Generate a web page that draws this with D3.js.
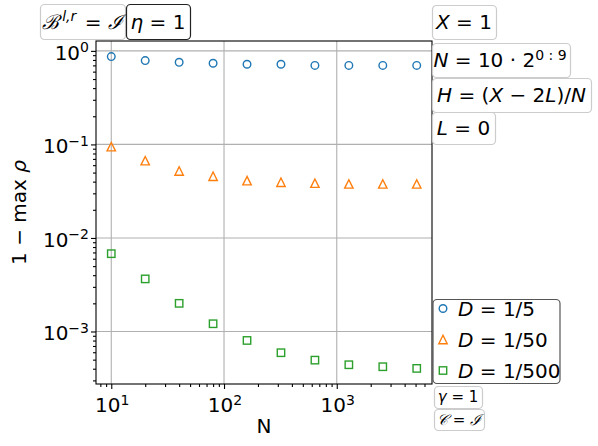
<!DOCTYPE html>
<html><head><meta charset="utf-8">
<script src="https://cdn.jsdelivr.net/npm/d3@7"></script>
<style>
body{margin:0;background:#fff;}
svg{display:block;font-family:"DejaVu Sans",sans-serif;}
</style></head>
<body>
<svg id="c" width="598" height="446"></svg>
<script>
const Nvals = [10, 20, 40, 80, 160, 320, 640, 1280, 2560, 5120];
const seriesD5   = [0.869, 0.788, 0.755, 0.738, 0.72, 0.72, 0.70, 0.70, 0.70, 0.70];
const seriesD50  = [0.0945, 0.067, 0.052, 0.0457, 0.041, 0.0394, 0.0385, 0.0378, 0.0378, 0.0378];
const seriesD500 = [0.00679, 0.00365, 0.00200, 0.00121, 0.000802, 0.000593, 0.000494, 0.000441, 0.000420, 0.000403];
const seriesLabels = ["1/5", "1/50", "1/500"];
const xTickExps = [1, 2, 3];
const yTickExps = [0, -1, -2, -3];

const colors = ["#1f77b4", "#ff7f0e", "#2ca02c"];
const shapes = ["circle", "triangle", "square"];
const series = [seriesD5, seriesD50, seriesD500];

const svg = d3.select("#c");
const L = 96, R = 432, T = 41, B = 384;

function logPad(vals) {
  const lo = Math.log10(d3.min(vals)), hi = Math.log10(d3.max(vals));
  const m = (hi - lo) * 0.05;
  return [Math.pow(10, lo - m), Math.pow(10, hi + m)];
}
const x = d3.scaleLog().domain(logPad(Nvals)).range([L, R]);
const y = d3.scaleLog().domain(logPad(series.flat())).range([B, T]);

// grid
const g = svg.append("g");
xTickExps.forEach(e => {
  const px = x(Math.pow(10, e));
  g.append("line").attr("x1", px).attr("x2", px).attr("y1", T).attr("y2", B)
    .attr("stroke", "#b0b0b0").attr("stroke-width", 1.1);
});
yTickExps.forEach(e => {
  const py = y(Math.pow(10, e));
  g.append("line").attr("x1", L).attr("x2", R).attr("y1", py).attr("y2", py)
    .attr("stroke", "#b0b0b0").attr("stroke-width", 1.1);
});

// axes via d3 axis
const xAxis = d3.axisBottom(x).tickValues(xTickExps.map(e => Math.pow(10, e))).tickFormat("").tickSize(5);
const xMinor = [];
for (let e = 0; e <= 3; e++) for (let k = 2; k <= 9; k++) { const v = k * Math.pow(10, e); if (v >= x.domain()[0] && v <= x.domain()[1]) xMinor.push(v); }
const yMinor = [];
for (let e = -4; e <= 0; e++) for (let k = 2; k <= 9; k++) { const v = k * Math.pow(10, e); if (v >= y.domain()[0] && v <= y.domain()[1]) yMinor.push(v); }

svg.append("g").attr("transform", `translate(0,${B})`).call(xAxis);
svg.append("g").attr("transform", `translate(0,${B})`).call(d3.axisBottom(x).tickValues(xMinor).tickFormat("").tickSize(3));
svg.append("g").attr("transform", `translate(${L},0)`).call(d3.axisLeft(y).tickValues(yTickExps.map(e => Math.pow(10, e))).tickFormat("").tickSize(5));
svg.append("g").attr("transform", `translate(${L},0)`).call(d3.axisLeft(y).tickValues(yMinor).tickFormat("").tickSize(3));
svg.selectAll(".domain").remove();
svg.selectAll(".tick line").attr("stroke", "#000").attr("stroke-width", 1.1);

// frame
svg.append("rect").attr("x", L).attr("y", T).attr("width", R - L).attr("height", B - T)
  .attr("fill", "none").attr("stroke", "#000").attr("stroke-width", 1.1);

// tick labels
function powLabel(sel, e) {
  sel.append("tspan").text("10");
  sel.append("tspan").attr("dy", -7.5).attr("font-size", 14).text(e < 0 ? "\u2212" + (-e) : String(e));
}
xTickExps.forEach(e => {
  const t = svg.append("text").attr("x", x(Math.pow(10, e)) + 1).attr("y", 412)
    .attr("text-anchor", "middle").attr("font-size", 20).attr("fill", "#000");
  powLabel(t, e);
});
yTickExps.forEach(e => {
  const t = svg.append("text").attr("x", 89).attr("y", y(Math.pow(10, e)) + 9)
    .attr("text-anchor", "end").attr("font-size", 20).attr("fill", "#000");
  powLabel(t, e);
});

// axis labels
svg.append("text").attr("x", (L + R) / 2).attr("y", 433).attr("text-anchor", "middle")
  .attr("font-size", 20).text("N");
const yl = svg.append("text").attr("transform", `translate(26,${(T + B) / 2}) rotate(-90)`)
  .attr("text-anchor", "middle").attr("font-size", 20);
yl.append("tspan").text("1 \u2212 max ");
yl.append("tspan").attr("font-style", "italic").text("\u03c1");

// markers
function drawMarker(sel, shape, cx, cy, color) {
  if (shape === "circle") {
    sel.append("circle").attr("cx", cx).attr("cy", cy).attr("r", 3.8)
      .attr("fill", "none").attr("stroke", color).attr("stroke-width", 1.4);
  } else if (shape === "triangle") {
    const h = 4.2;
    sel.append("path").attr("d", `M${cx},${cy - h}L${cx - h},${cy + h}L${cx + h},${cy + h}Z`)
      .attr("fill", "none").attr("stroke", color).attr("stroke-width", 1.4).attr("stroke-linejoin", "miter");
  } else {
    const s = 3.7;
    sel.append("rect").attr("x", cx - s).attr("y", cy - s).attr("width", 2 * s).attr("height", 2 * s)
      .attr("fill", "none").attr("stroke", color).attr("stroke-width", 1.4);
  }
}
const pts = svg.append("g");
series.forEach((s, i) => {
  s.forEach((v, j) => drawMarker(pts, shapes[i], x(Nvals[j]), y(v), colors[i]));
});

// annotation boxes
function box(x0, y0, w, h, stroke, fs, build) {
  svg.append("rect").attr("x", x0 + 0.5).attr("y", y0 + 0.5).attr("width", w).attr("height", h)
    .attr("rx", 4).attr("fill", "#fff").attr("fill-opacity", 0.85).attr("stroke", stroke).attr("stroke-width", 1.2);
  const t = svg.append("text").attr("x", x0 + w / 2).attr("y", y0 + h / 2 + fs * 0.36)
    .attr("text-anchor", "middle").attr("font-size", fs);
  build(t, fs);
}
const it = (t, s) => t.append("tspan").attr("font-style", "italic").text(s);
const rm = (t, s) => t.append("tspan").text(s);
const sup = (t, s, fs, italic, dx) => {
  const sp = t.append("tspan").attr("dy", -fs * 0.38).attr("font-size", fs * 0.7).text(s);
  if (dx) sp.attr("dx", dx);
  if (italic) sp.attr("font-style", "italic");
  t.append("tspan").attr("dy", fs * 0.38).text("\u200a");
};
const light = "#cccccc", dark = "#222222";

box(40, 4, 85, 35, light, 20, (t, fs) => {
  t.append("tspan").attr("font-family", "DejaVu Serif").attr("font-style", "italic").text("\u212c");
  sup(t, "l,r", fs, true, 3);
  rm(t, " = ");
  t.append("tspan").attr("font-family", "DejaVu Serif").attr("font-style", "italic").text("\u2110");
});
box(126, 4, 64, 35, dark, 20, t => { it(t, "\u03b7"); rm(t, " = 1"); });

box(432, 5, 64, 34, light, 20, t => { it(t, "X"); rm(t, " = 1"); });
box(432, 43, 138, 34, light, 20, (t, fs) => { it(t, "N"); rm(t, " = 10 \u00b7 2"); sup(t, "0 : 9", fs, false); });
box(432, 78, 159, 34, light, 20, t => { it(t, "H"); rm(t, " = ("); it(t, "X"); rm(t, " \u2212 2"); it(t, "L"); rm(t, ")/"); it(t, "N"); });
box(432, 112, 63, 32, light, 20, t => { it(t, "L"); rm(t, " = 0"); });

// legend
svg.append("rect").attr("x", 433).attr("y", 299.5).attr("width", 127).attr("height", 84)
  .attr("rx", 4).attr("fill", "#fff").attr("fill-opacity", 0.85).attr("stroke", "#555").attr("stroke-width", 1.2);
const legRows = [308.5, 339.5, 370.5];
seriesLabels.forEach((lab, i) => {
  drawMarker(svg, shapes[i], 443, legRows[i], colors[i]);
  const t = svg.append("text").attr("x", 458).attr("y", legRows[i] + 7.5).attr("font-size", 20);
  it(t, "D"); rm(t, " = " + lab);
});

box(434, 386, 48, 22, light, 15, t => { it(t, "\u03b3"); rm(t, " = 1"); });
box(434, 409, 50, 21, light, 15, t => {
  t.append("tspan").attr("font-family", "DejaVu Serif").attr("font-style", "italic").text("\ud835\udc9e");
  rm(t, " = ");
  t.append("tspan").attr("font-family", "DejaVu Serif").attr("font-style", "italic").text("\u2110");
});
</script>
</body></html>
